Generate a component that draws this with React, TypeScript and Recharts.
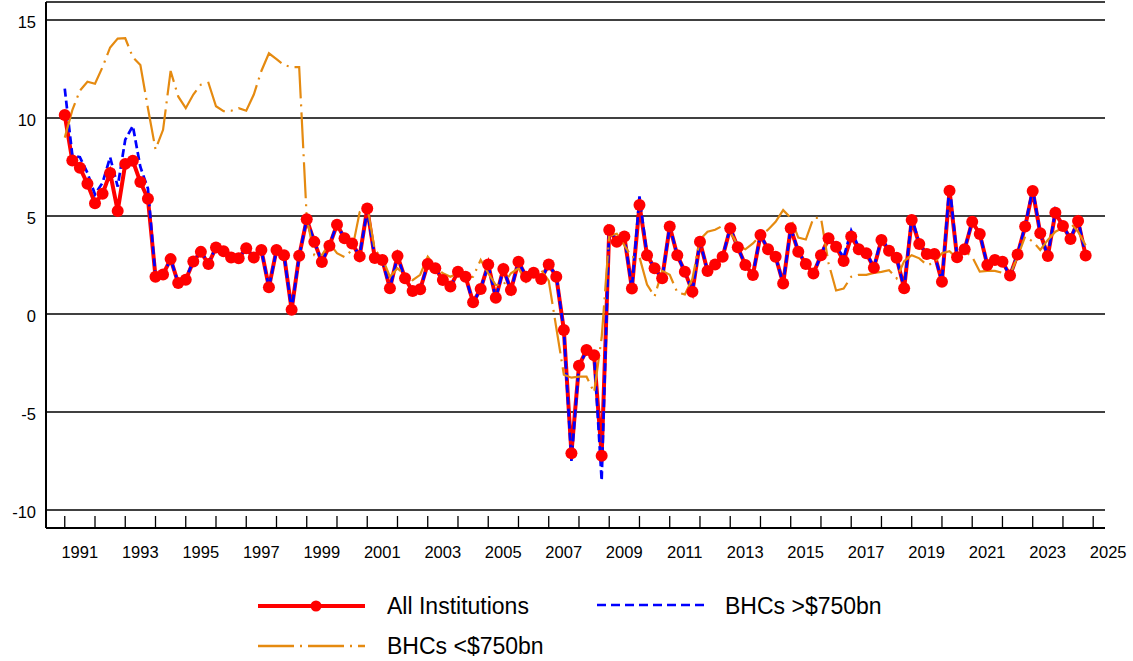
import React from 'react';
import { LineChart, Line, XAxis, YAxis, CartesianGrid } from 'recharts';

// quarterly, 1991 Q1 .. 2024 Q4
const firstYear = 1991;
const lastYear = 2024;

const allInstitutions = [
  10.15, 7.83, 7.46, 6.65, 5.65, 6.14, 7.2, 5.26, 7.66, 7.82, 6.73, 5.88,
  1.9, 2.02, 2.8, 1.58, 1.75, 2.68, 3.17, 2.55, 3.39, 3.2, 2.88, 2.85,
  3.36, 2.88, 3.27, 1.36, 3.27, 3.0, 0.22, 2.97, 4.83, 3.68, 2.65, 3.48,
  4.56, 3.86, 3.6, 2.94, 5.38, 2.86, 2.76, 1.31, 2.96, 1.82, 1.17, 1.26,
  2.55, 2.33, 1.73, 1.4, 2.16, 1.9, 0.6, 1.28, 2.53, 0.83, 2.3, 1.22,
  2.67, 1.9, 2.11, 1.79, 2.53, 1.9, -0.82, -7.1, -2.64, -1.84, -2.1, -7.23,
  4.29, 3.69, 3.95, 1.3, 5.56, 3.0, 2.33, 1.82, 4.46, 3.0, 2.16, 1.14,
  3.69, 2.19, 2.53, 2.92, 4.37, 3.4, 2.5, 1.99, 4.03, 3.3, 2.92, 1.56,
  4.37, 3.18, 2.55, 2.07, 3.0, 3.86, 3.43, 2.7, 3.95, 3.3, 3.1, 2.36,
  3.78, 3.23, 2.87, 1.31, 4.8, 3.57, 3.06, 3.06, 1.65, 6.29, 2.89, 3.3,
  4.71, 4.08, 2.5, 2.76, 2.67, 1.96, 3.04, 4.46, 6.28, 4.12, 2.96, 5.17,
  4.49, 3.83, 4.74, 2.99,
];

const bhcsOver750 = [
  11.5, 8.1, 8.0, 7.2, 6.1, 6.7, 8.0, 6.5, 8.9, 9.6, 7.5, 6.4,
  1.9, 2.0, 2.8, 1.6, 1.8, 2.7, 3.2, 2.6, 3.4, 3.2, 2.9, 2.85,
  3.35, 2.9, 3.25, 1.35, 3.25, 3.0, 0.2, 2.95, 4.85, 3.7, 2.65, 3.5,
  4.6, 3.85, 3.55, 3.0, 5.3, 2.85, 2.75, 1.3, 2.95, 1.8, 1.15, 1.25,
  2.55, 2.35, 1.75, 1.4, 2.15, 1.9, 0.55, 1.3, 2.5, 0.8, 2.3, 1.2,
  2.65, 1.95, 2.1, 1.8, 2.5, 1.95, -0.85, -7.5, -2.6, -1.9, -2.1, -8.5,
  4.5, 3.7, 3.95, 1.3, 6.0, 3.0, 2.35, 1.8, 4.5, 3.0, 2.15, 1.15,
  3.7, 2.2, 2.5, 2.95, 4.4, 3.4, 2.5, 2.0, 4.05, 3.3, 2.9, 1.55,
  4.4, 3.2, 2.55, 2.05, 3.0, 4.0, 3.45, 2.9, 4.25, 3.4, 3.15, 2.35,
  3.9, 3.25, 2.85, 1.3, 4.95, 3.6, 3.05, 3.05, 1.65, 6.6, 2.9, 3.3,
  4.75, 4.1, 2.5, 2.75, 2.65, 1.95, 3.05, 4.5, 6.4, 4.1, 2.95, 5.3,
  4.5, 3.85, 4.8, 3.0,
];

const bhcsUnder750 = [
  9.0, 10.4, 11.4, 11.85, 11.75, 12.6, 13.6, 14.05, 14.07, 13.1, 12.7, 10.5,
  8.4, 9.4, 12.4, 11.1, 10.5, 11.2, 11.7, 11.8, 10.6, 10.35, 10.37, 10.5,
  10.37, 11.2, 12.4, 13.3, 13.0, 12.7, 12.6, 12.6, 4.9, 3.0, 3.0, 3.6,
  3.1, 2.9, 3.27, 5.2, 5.5, 3.27, 2.85, 1.9, 2.33, 2.0, 1.73, 2.0,
  2.92, 2.41, 2.08, 1.9, 2.08, 1.84, 1.9, 2.76, 2.08, 1.48, 1.48, 2.08,
  2.33, 1.65, 2.16, 2.24, 1.7, -0.7, -3.1, -3.25, -3.2, -3.2, -4.0, -1.2,
  4.0, 4.1, 3.5, 2.9, 2.9, 1.5, 0.9, 2.2, 2.0, 1.1, 1.0, 1.8,
  3.8, 4.2, 4.3, 4.5, 4.2, 3.5, 3.3, 3.6, 4.0, 4.3, 4.7, 5.3,
  4.9, 3.9, 3.8, 4.9, 4.9, 2.6, 1.2, 1.3, 1.9, 2.0, 2.0, 2.1,
  2.15, 2.24, 1.82, 2.7, 3.0, 2.84, 2.5, 2.6, 3.1, 3.2, 2.84, 3.2,
  2.92, 2.16, 2.2, 2.2, 2.1, 2.0, 2.92, 3.95, 3.7, 3.27, 3.78, 4.2,
  4.4, 4.63, 4.2, 3.5,
];

const yearTicks: number[] = [];
for (let y = firstYear; y <= 2025; y++) yearTicks.push(y);
const yTicks = [-10, -5, 0, 5, 10, 15];

const quarters: { label: string; t: number }[] = [];
for (let y = firstYear; y <= lastYear; y++) {
  for (let q = 1; q <= 4; q++) quarters.push({ label: `${y} Q${q}`, t: y + (q - 1) / 4 });
}

const data = quarters.map((q, i) => ({
  name: q.label,
  t: q.t,
  all: allInstitutions[i],
  big: bhcsOver750[i],
  small: bhcsUnder750[i],
}));

const FONT = '"Liberation Sans", Arial, sans-serif';
const RED = '#FF0000';
const BLUE = '#0000FF';
const ORANGE = '#E58A10';

const XTick = (props: any) => {
  const { x, y, payload } = props;
  const yr = payload.value;
  return (
    <g>
      <line x1={x} x2={x} y1={y} y2={y - 12} stroke="#000" strokeWidth={1.3} />
      {yr % 2 === 1 && (
        <text x={x + 15} y={y + 29.5} textAnchor="middle" fontSize={16.5} fontFamily={FONT} fill="#000">
          {yr}
        </text>
      )}
    </g>
  );
};

const YTick = (props: any) => {
  const { x, y, payload } = props;
  return (
    <text x={x - 10} y={y + 8} textAnchor="end" fontSize={16.5} fontFamily={FONT} fill="#000">
      {payload.value}
    </text>
  );
};

const ChartLegend = () => (
  <svg width={1133} height={661} style={{ position: 'absolute', left: 0, top: 0, pointerEvents: 'none' }}>
    <g fontFamily={FONT} fontSize={23} fill="#000">
      <line x1={258} x2={365} y1={606} y2={606} stroke={RED} strokeWidth={4} />
      <circle cx={316} cy={606} r={5.5} fill={RED} />
      <text x={387} y={614}>All Institutions</text>

      <line x1={597} x2={707} y1={605} y2={605} stroke={BLUE} strokeWidth={2.5} strokeDasharray="9 5" />
      <text x={725} y={614}>BHCs &gt;$750bn</text>

      <line x1={258} x2={365} y1={646} y2={646} stroke={ORANGE} strokeWidth={2.5} strokeDasharray="36 6 2 6" />
      <text x={387} y={654}>BHCs &lt;$750bn</text>
    </g>
  </svg>
);

export default function App() {
  return (
    <div style={{ position: 'absolute', left: 0, top: 0, width: 1133, height: 661, fontFamily: FONT, background: '#fff' }}>
      <LineChart width={1133} height={661} data={data} margin={{ top: 2, right: 28, left: 0, bottom: 103 }}>
        <CartesianGrid vertical={false} stroke="#000" strokeWidth={1.5} />
        <XAxis
          dataKey="t"
          type="number"
          scale="linear"
          domain={[1990.38, 2025.39]}
          ticks={yearTicks}
          interval={0}
          height={30}
          tickSize={0}
          tickMargin={0}
          tickLine={false}
          axisLine={{ stroke: '#000', strokeWidth: 2 }}
          tick={<XTick />}
        />
        <YAxis
          type="number"
          domain={[-10.92, 15.92]}
          ticks={yTicks}
          interval={0}
          width={46}
          tickSize={0}
          tickMargin={0}
          tickLine={false}
          axisLine={{ stroke: '#000', strokeWidth: 2 }}
          tick={<YTick />}
        />
        <Line
          type="linear"
          dataKey="all"
          stroke={RED}
          strokeWidth={4}
          dot={{ r: 6, fill: RED, stroke: 'none' }}
          activeDot={false}
          isAnimationActive={false}
        />
        <Line
          type="linear"
          dataKey="big"
          stroke={BLUE}
          strokeWidth={2.7}
          strokeDasharray="8 4"
          dot={false}
          activeDot={false}
          isAnimationActive={false}
        />
        <Line
          type="linear"
          dataKey="small"
          stroke={ORANGE}
          strokeWidth={2.2}
          strokeDasharray="36 6 2 6"
          dot={false}
          activeDot={false}
          isAnimationActive={false}
        />
      </LineChart>
      <ChartLegend />
    </div>
  );
}
